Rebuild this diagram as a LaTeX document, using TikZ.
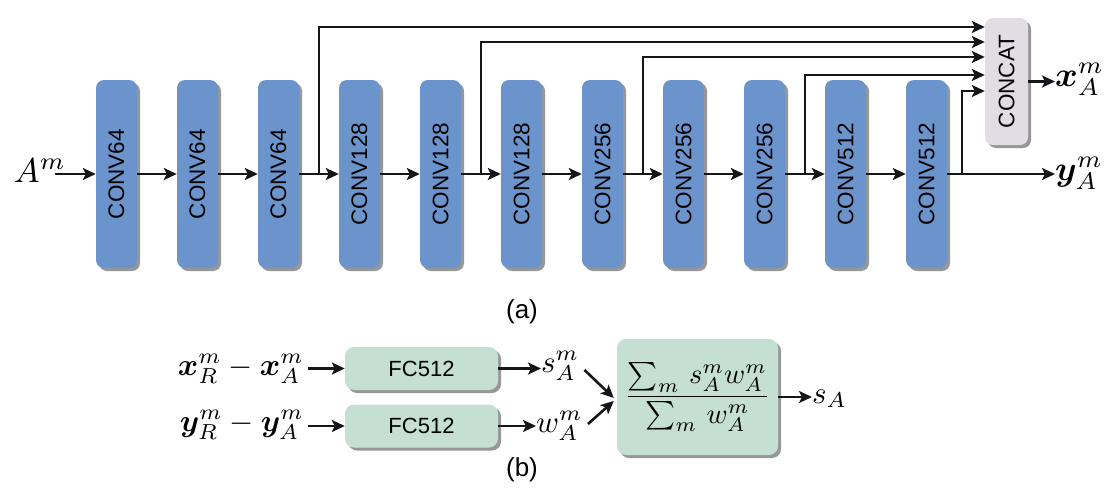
\documentclass[tikz,border=0pt]{standalone}
\usepackage{amsmath}
\usepackage{bm}
\usepackage{graphicx}
\usepackage{fontspec}
\setsansfont{Liberation Sans}
\usetikzlibrary{arrows.meta,shadows,calc}
\definecolor{convblue}{RGB}{108,148,204}
\definecolor{concatgray}{RGB}{226,220,228}
\definecolor{fcgreen}{RGB}{197,223,210}
\definecolor{shadowgray}{RGB}{140,140,140}
\definecolor{linecol}{RGB}{20,22,26}
\newcommand{\mbig}[1]{\scalebox{3.1}{$#1$}}
\newcommand{\mbigger}[1]{\scalebox{3.45}{$#1$}}
\begin{document}
\begin{tikzpicture}[x=1pt,y=-1pt,
  shadowed/.style={drop shadow={shadow xshift=3pt,shadow yshift=-3pt,fill=shadowgray,opacity=0.9}},
  conv/.style={rectangle,rounded corners=8pt,fill=convblue,minimum width=41pt,minimum height=188pt,inner sep=0pt,shadowed,font=\sffamily\fontsize{22.5}{24}\selectfont},
  concat/.style={rectangle,rounded corners=8pt,fill=concatgray,minimum width=43pt,minimum height=127pt,inner sep=0pt,shadowed,font=\sffamily\fontsize{22.5}{24}\selectfont},
  fc/.style={rectangle,rounded corners=9pt,fill=fcgreen,minimum width=153pt,minimum height=43pt,inner sep=0pt,shadowed,font=\sffamily\fontsize{22}{24}\selectfont},
  sumbox/.style={rectangle,rounded corners=9pt,fill=fcgreen,minimum width=161pt,minimum height=116pt,inner sep=0pt,shadowed},
  mtxt/.style={inner sep=0pt},
  captxt/.style={inner sep=0pt,font=\sffamily\fontsize{26}{28}\selectfont},
  arr/.style={draw=linecol,line width=2.6pt,-{Stealth[length=13pt,width=12pt,inset=3pt]}},
  farr/.style={draw=linecol,line width=2.2pt,-{Stealth[length=13pt,width=12pt,inset=3pt]}}]
\useasboundingbox (0,0) rectangle (1106,496);

% conv blocks
\foreach \t [count=\k] in {CONV64,CONV64,CONV64,CONV128,CONV128,CONV128,CONV256,CONV256,CONV256,CONV512,CONV512}
  \node[conv] (c\k) at ({116.5+81*(\k-1)},174) {\rotatebox{90}{\t}};

\node[concat] (cat) at (1006.5,81.5) {\rotatebox{90}{CONCAT}};

% input
\node[mtxt,anchor=base] (am) at (40,182) {\mbigger{A^m}};
\coordinate (ain) at (55,174);
\draw[arr] (ain) -- (c1.west);
\foreach \a/\b in {1/2,2/3,3/4,4/5,5/6,6/7,7/8,8/9,9/10,10/11}
  \draw[arr] (c\a.east) -- (c\b.west);

% outputs
\node[mtxt,anchor=base west] (xa) at (1055,86) {\mbigger{\bm{x}^m_A}};
\node[mtxt,anchor=base west] (ya) at (1055,180) {\mbigger{\bm{y}^m_A}};
\draw[arr] (cat.east) -- (cat.east -| xa.west);
\draw[arr] (c11.east) -- (c11.east -| ya.west);

% skip connections
\coordinate (b1) at ($(c3.east)!0.5!(c4.west)$);
\coordinate (b2) at ($(c5.east)!0.5!(c6.west)$);
\coordinate (b3) at ($(c7.east)!0.5!(c8.west)$);
\coordinate (b4) at ($(c9.east)!0.5!(c10.west)$);
\coordinate (b5) at ($(c11.east)+(15,0)$);
\draw[farr] (b1) |- ([yshift=54.5pt]cat.west);
\draw[farr] (b2) |- ([yshift=39.5pt]cat.west);
\draw[farr] (b3) |- ([yshift=24.5pt]cat.west);
\draw[farr] (b4) |- ([yshift=6.5pt]cat.west);
\draw[farr] (b5) |- ([yshift=-9.5pt]cat.west);

\node[captxt] (la) at (522,312) {(a)};

% part (b)
\node[fc] (fc1) at (421.5,368.5) {FC512};
\node[fc] (fc2) at (421.5,426) {FC512};
\node[mtxt,anchor=base east] (dx) at (304,375) {\mbig{\bm{x}^m_R-\bm{x}^m_A}};
\node[mtxt,anchor=base east] (dy) at (304,431) {\mbig{\bm{y}^m_R-\bm{y}^m_A}};
\draw[arr] (dx.east |- fc1.west) ++(4,0) -- (fc1.west);
\draw[arr] (dy.east |- fc2.west) ++(4,0) -- (fc2.west);
\node[mtxt,anchor=base west] (sm) at (541,372) {\mbig{s^m_A}};
\node[mtxt,anchor=base west] (wm) at (536,432) {\mbig{w^m_A}};
\draw[arr] (fc1.east) -- (fc1.east -| sm.west);
\draw[arr] (fc2.east) -- (fc2.east -| wm.west);
\node[sumbox] (sum) at (697.5,397) {\scalebox{2.85}{$\dfrac{\sum_m\, s^m_A w^m_A}{\sum_m\, w^m_A}$}};
\draw[arr] ([shift={(5,4)}]sm.east) -- ([shift={(-3,1)}]sum.west);
\draw[arr] ([shift={(5,-2)}]wm.east) -- ([shift={(-3,4)}]sum.west);
\node[mtxt,anchor=base west] (sa) at (812,403) {\mbig{s_A}};
\draw[arr] (sum.east) -- (sum.east -| sa.west);

\node[captxt] (lb) at (522,470) {(b)};
\end{tikzpicture}
\end{document}
